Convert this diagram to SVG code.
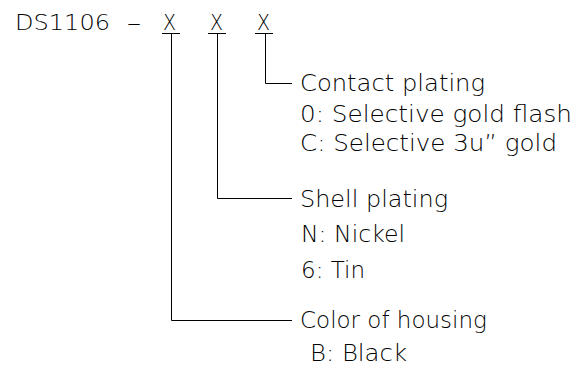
<svg xmlns="http://www.w3.org/2000/svg" width="585" height="366" viewBox="0 0 585 366">
<style>
text{font-family:"DejaVu Sans","Liberation Sans",sans-serif;font-weight:200;fill:#000}
.h{font-size:22px}
.t{font-size:23px}
.c{fill:none;stroke:#000;stroke-width:1}
</style>
<rect width="585" height="366" fill="#fff"/>
<g id="code">
<text class="h" x="15" y="30" textLength="95" lengthAdjust="spacingAndGlyphs">DS1106</text>
<text class="h" x="127" y="30" textLength="14" lengthAdjust="spacingAndGlyphs">–</text>
<text class="h" x="163" y="30" textLength="13" lengthAdjust="spacingAndGlyphs">X</text>
<text class="h" x="210" y="30" textLength="13" lengthAdjust="spacingAndGlyphs">X</text>
<text class="h" x="257" y="30" textLength="13" lengthAdjust="spacingAndGlyphs">X</text>
<path class="c" d="M162 33.5H180M208 33.5H226M255 33.5H273"/>
</g>
<g id="connectors">
<polyline class="c" points="265.5,34 265.5,83.5 292,83.5"/>
<polyline class="c" points="217.5,34 217.5,198.5 292,198.5"/>
<polyline class="c" points="171.5,34 171.5,320.5 292,320.5"/>
</g>
<g id="contact-plating">
<text class="t" x="300" y="91" textLength="185" lengthAdjust="spacingAndGlyphs">Contact plating</text>
<text class="t" x="300" y="122" textLength="272" lengthAdjust="spacingAndGlyphs">0: Selective gold flash</text>
<text class="t" x="300" y="151" textLength="257" lengthAdjust="spacingAndGlyphs">C: Selective 3u” gold</text>
</g>
<g id="shell-plating">
<text class="t" x="300" y="207" textLength="148" lengthAdjust="spacingAndGlyphs">Shell plating</text>
<text class="t" x="301" y="242" textLength="104" lengthAdjust="spacingAndGlyphs">N: Nickel</text>
<text class="t" x="301" y="278" textLength="64" lengthAdjust="spacingAndGlyphs">6: Tin</text>
</g>
<g id="housing-color">
<text class="t" x="300" y="328">Color of housing</text>
<text class="t" x="310" y="361" textLength="97" lengthAdjust="spacingAndGlyphs">B: Black</text>
</g>
</svg>
